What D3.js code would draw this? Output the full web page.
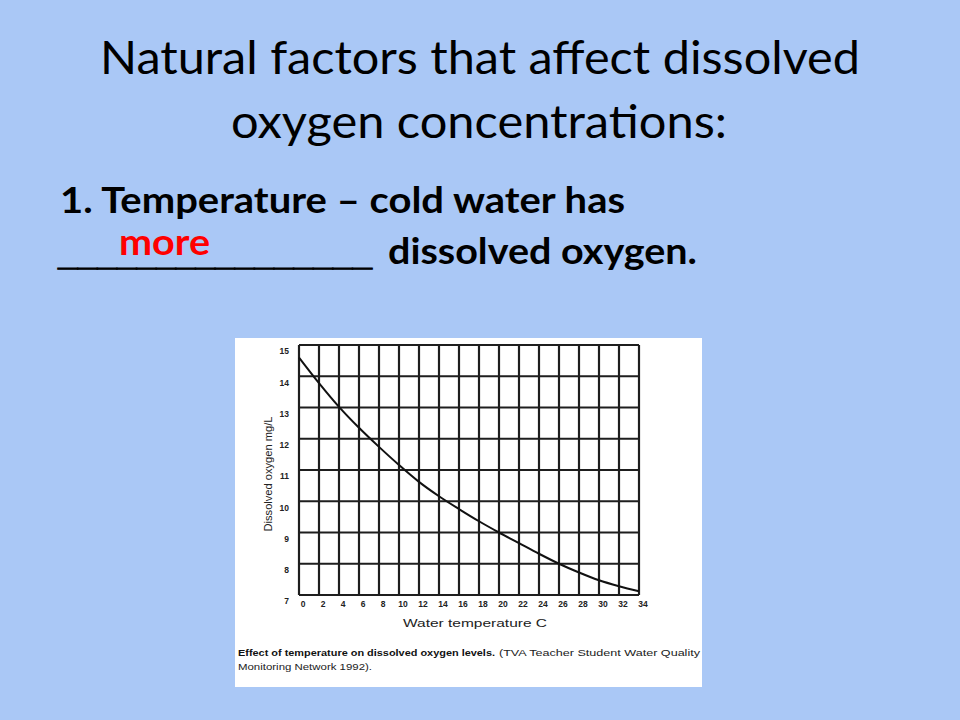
<!DOCTYPE html>
<html>
<head>
<meta charset="utf-8">
<script src="https://cdn.jsdelivr.net/npm/d3@7"></script>
<style>
  html, body { margin: 0; padding: 0; background: #aac8f6; }
  svg { display: block; }
</style>
</head>
<body>
<svg id="slide" width="960" height="720"></svg>
<script>
// ---- data ----
const temperatures = [0, 2, 4, 6, 8, 10, 12, 14, 16, 18, 20, 22, 24, 26, 28, 30, 32, 34];
const oxygen = [14.6, 13.78, 13.02, 12.35, 11.74, 11.16, 10.62, 10.16, 9.75, 9.36, 9.0, 8.66, 8.32, 8.0, 7.72, 7.47, 7.28, 7.12];
const xTickLabels = [0, 2, 4, 6, 8, 10, 12, 14, 16, 18, 20, 22, 24, 26, 28, 30, 32, 34];
const yTickLabels = [7, 8, 9, 10, 11, 12, 13, 14, 15];
const titleLines = ["Natural factors that affect dissolved", "oxygen concentrations:"];
const xAxisTitle = "Water temperature C";
const yAxisTitle = "Dissolved oxygen mg/L";

const svg = d3.select("#slide");

// background
svg.append("rect").attr("width", 960).attr("height", 720).attr("fill", "#aac8f6");

// title
const titleFont = "Lato, 'Open Sans', sans-serif";
svg.append("text").attr("x", 100).attr("y", 74)
  .attr("font-family", titleFont).attr("font-size", 45.5).attr("fill", "#000")
  .attr("textLength", 760).attr("lengthAdjust", "spacingAndGlyphs")
  .text(titleLines[0]);
svg.append("text").attr("x", 231).attr("y", 138)
  .attr("font-family", titleFont).attr("font-size", 45.5).attr("fill", "#000")
  .attr("textLength", 496).attr("lengthAdjust", "spacingAndGlyphs")
  .text(titleLines[1]);

// body text
svg.append("text").attr("x", 60).attr("y", 213)
  .attr("font-family", titleFont).attr("font-weight", "bold").attr("font-size", 36.5).attr("fill", "#000")
  .attr("textLength", 565).attr("lengthAdjust", "spacingAndGlyphs")
  .text("1. Temperature \u2013 cold water has");
svg.append("text").attr("x", 58).attr("y", 265)
  .attr("font-family", "'Liberation Sans', Arial, sans-serif").attr("font-weight", "bold").attr("font-size", 34)
  .attr("fill", "#000").attr("stroke", "#000").attr("stroke-width", 0.9)
  .attr("textLength", 314).attr("lengthAdjust", "spacingAndGlyphs")
  .text("________________");
svg.append("text").attr("x", 388).attr("y", 264)
  .attr("font-family", titleFont).attr("font-weight", "bold").attr("font-size", 36.5).attr("fill", "#000")
  .attr("textLength", 309).attr("lengthAdjust", "spacingAndGlyphs")
  .text("dissolved oxygen.");
svg.append("text").attr("x", 119).attr("y", 255)
  .attr("font-family", titleFont).attr("font-weight", "bold").attr("font-size", 36.5).attr("fill", "#ff0000")
  .attr("textLength", 91).attr("lengthAdjust", "spacingAndGlyphs")
  .text("more");

// chart image panel
svg.append("rect").attr("x", 235).attr("y", 338).attr("width", 467).attr("height", 349).attr("fill", "#ffffff");

const x = d3.scaleLinear().domain([0, 34]).range([299, 639]);
const y = d3.scaleLinear().domain([7, 15]).range([595, 345]);

const gridColor = "#1e1e1e";
const g = svg.append("g");

// vertical grid lines
g.selectAll("line.v").data(xTickLabels).join("line")
  .attr("class", "v")
  .attr("x1", d => x(d)).attr("x2", d => x(d))
  .attr("y1", y(15)).attr("y2", y(7))
  .attr("stroke", gridColor).attr("stroke-width", 2.2);

// horizontal grid lines
g.selectAll("line.h").data(yTickLabels).join("line")
  .attr("class", "h")
  .attr("x1", x(0)).attr("x2", x(34))
  .attr("y1", d => y(d)).attr("y2", d => y(d))
  .attr("stroke", gridColor).attr("stroke-width", 2.2);

// tick labels
const tickFont = "'Liberation Sans Narrow', 'Liberation Sans', Arial, sans-serif";
g.selectAll("text.yt").data(yTickLabels).join("text")
  .attr("class", "yt")
  .attr("x", 289).attr("y", d => y(d) + 7)
  .attr("text-anchor", "end").attr("dominant-baseline", "middle")
  .attr("font-family", tickFont).attr("font-size", 8.5).attr("font-weight", "bold").attr("fill", "#222")
  .text(d => d);

g.selectAll("text.xt").data(xTickLabels).join("text")
  .attr("class", "xt")
  .attr("x", d => x(d) + 4).attr("y", 605)
  .attr("text-anchor", "middle").attr("dominant-baseline", "middle")
  .attr("font-family", tickFont).attr("font-size", 8.5).attr("font-weight", "bold").attr("fill", "#222")
  .text(d => d);

// axis titles
svg.append("text")
  .attr("transform", "translate(272,474) rotate(-90)")
  .attr("text-anchor", "middle")
  .attr("font-family", tickFont).attr("font-size", 10.5).attr("fill", "#222")
  .attr("textLength", 115).attr("lengthAdjust", "spacingAndGlyphs")
  .text(yAxisTitle);

svg.append("text")
  .attr("x", 403).attr("y", 627)
  .attr("font-family", "'Liberation Sans', Arial, sans-serif").attr("font-size", 11).attr("fill", "#222")
  .attr("textLength", 144).attr("lengthAdjust", "spacingAndGlyphs")
  .text(xAxisTitle);

// curve
const line = d3.line()
  .x((d, i) => x(temperatures[i]))
  .y(d => y(d))
  .curve(d3.curveMonotoneX);
svg.append("path").datum(oxygen)
  .attr("d", line)
  .attr("fill", "none").attr("stroke", "#111").attr("stroke-width", 2);

// caption
const capFont = "'Liberation Sans', Arial, sans-serif";
svg.append("text").attr("x", 238).attr("y", 656)
  .attr("font-family", capFont).attr("font-size", 9.5).attr("font-weight", "bold").attr("fill", "#111")
  .attr("textLength", 257).attr("lengthAdjust", "spacingAndGlyphs")
  .text("Effect of temperature on dissolved oxygen levels.");
svg.append("text").attr("x", 499).attr("y", 656)
  .attr("font-family", capFont).attr("font-size", 9.5).attr("fill", "#222")
  .attr("textLength", 201).attr("lengthAdjust", "spacingAndGlyphs")
  .text("(TVA Teacher Student Water Quality");
svg.append("text").attr("x", 238).attr("y", 669.5)
  .attr("font-family", capFont).attr("font-size", 9.5).attr("fill", "#222")
  .attr("textLength", 134).attr("lengthAdjust", "spacingAndGlyphs")
  .text("Monitoring Network 1992).");
</script>
</body>
</html>
